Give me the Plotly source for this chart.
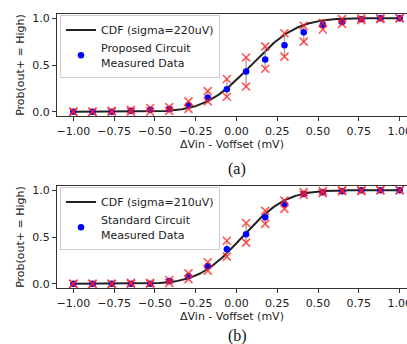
import math
import plotly.graph_objects as go

# ---------------- data ----------------
x_points = [-1.0, -0.882, -0.765, -0.647, -0.529, -0.412, -0.294, -0.176, -0.059,
            0.059, 0.176, 0.294, 0.412, 0.529, 0.647, 0.765, 0.882, 1.0]

# panel (a) - proposed circuit
a_mean = [0.0, 0.0, 0.0, 0.01, 0.02, 0.03, 0.07, 0.15, 0.24,
          0.43, 0.56, 0.71, 0.85, 0.93, 0.96, 0.99, 1.0, 1.0]
a_upper = [0.0, 0.0, 0.01, 0.02, 0.04, 0.05, 0.11, 0.22, 0.35,
           0.58, 0.70, 0.84, 0.92, 0.95, 0.99, 1.0, 1.0, 1.0]
a_lower = [0.0, 0.0, 0.0, 0.0, 0.0, 0.01, 0.03, 0.11, 0.16,
           0.27, 0.46, 0.59, 0.75, 0.88, 0.94, 0.98, 0.99, 1.0]

# panel (b) - standard circuit
b_mean = [0.0, 0.0, 0.0, 0.0, 0.0, 0.03, 0.08, 0.19, 0.37,
          0.53, 0.71, 0.85, 0.96, 0.98, 0.99, 1.0, 1.0, 1.0]
b_upper = [0.0, 0.0, 0.0, 0.01, 0.01, 0.04, 0.11, 0.23, 0.46,
           0.65, 0.78, 0.89, 0.98, 0.99, 1.0, 1.0, 1.0, 1.0]
b_lower = [0.0, 0.0, 0.0, 0.0, 0.0, 0.01, 0.05, 0.14, 0.29,
           0.44, 0.64, 0.80, 0.95, 0.97, 0.99, 0.99, 1.0, 1.0]

# fitted CDF parameters (mV)
cdf_sigma = [0.22, 0.21]
cdf_mu = [0.09, 0.035]
cdf_labels = ["CDF (sigma=220uV)", "CDF (sigma=210uV)"]
data_labels = ["Proposed Circuit<br>Measured Data", "Standard Circuit<br>Measured Data"]
captions = ["(a)", "(b)"]

x_ticks = [-1.0, -0.75, -0.5, -0.25, 0.0, 0.25, 0.5, 0.75, 1.0]
y_ticks = [0.0, 0.5, 1.0]

# ---------------- figure ----------------
W, H = 407, 344
FONT = "DejaVu Sans"
AX = "#333333"

curve_x = [-1.0 + 2.0 * i / 300 for i in range(301)]

fig = go.Figure()

panels = [
    (a_mean, a_upper, a_lower),
    (b_mean, b_upper, b_lower),
]

for i, (mean, up, lo) in enumerate(panels):
    xa = "x" if i == 0 else "x2"
    ya = "y" if i == 0 else "y2"
    lg = "legend" if i == 0 else "legend2"
    mu, sg = cdf_mu[i], cdf_sigma[i]
    curve_y = [0.5 * (1 + math.erf((v - mu) / (sg * math.sqrt(2)))) for v in curve_x]
    fig.add_trace(go.Scatter(
        x=curve_x, y=curve_y, mode="lines", name=cdf_labels[i],
        line=dict(color="#222222", width=2), xaxis=xa, yaxis=ya, legend=lg))
    fig.add_trace(go.Scatter(
        x=x_points, y=mean, mode="markers", name=data_labels[i],
        marker=dict(color="#0000ff", size=6.5),
        error_y=dict(type="data", symmetric=False,
                     array=[u - m for u, m in zip(up, mean)],
                     arrayminus=[m - l for m, l in zip(mean, lo)],
                     color="rgba(150,150,150,0.8)", thickness=1.5, width=0),
        xaxis=xa, yaxis=ya, legend=lg))
    for arr in (up, lo):
        fig.add_trace(go.Scatter(
            x=x_points, y=arr, mode="markers", showlegend=False,
            marker=dict(symbol="x-thin", size=8,
                        line=dict(color="rgba(255,30,30,0.75)", width=1.7)),
            xaxis=xa, yaxis=ya))

def xaxis_cfg():
    return dict(range=[-1.1, 1.045], domain=[57 / W, 1.0], automargin=False,
                tickvals=x_ticks, tickformat=".2f", ticklabeloverflow="allow",
                showline=True, linecolor=AX, linewidth=1, mirror=True,
                ticks="outside", ticklen=4, tickcolor=AX,
                showgrid=False, zeroline=False,
                tickfont=dict(family=FONT, size=11, color="#222"),
                title=dict(text="ΔVin - Voffset (mV)", standoff=3,
                           font=dict(family=FONT, size=11, color="#222")))

def yaxis_cfg(top_px, anchor):
    bottom_px = top_px + 102.8
    return dict(range=[-0.05, 1.05], automargin=False,
                domain=[1 - bottom_px / H, 1 - top_px / H], anchor=anchor,
                tickvals=y_ticks, tickformat=".1f",
                showline=True, linecolor=AX, linewidth=1, mirror=False,
                ticks="outside", ticklen=4, tickcolor=AX,
                showgrid=False, zeroline=False,
                tickfont=dict(family=FONT, size=11, color="#222"),
                title=dict(text="Prob(out+ = High)", standoff=5,
                           font=dict(family=FONT, size=11, color="#222")))

xa1 = xaxis_cfg(); xa1["anchor"] = "y"
xa2 = xaxis_cfg(); xa2["anchor"] = "y2"

legend_cfg = dict(xanchor="left", yanchor="top", bgcolor="rgba(255,255,255,0.85)",
                  bordercolor="#cccccc", borderwidth=1, itemwidth=30,
                  tracegroupgap=0,
                  font=dict(family=FONT, size=11, color="#222"))

fig.update_layout(
    width=W, height=H, margin=dict(l=0, r=0, t=0, b=0, autoexpand=False),
    paper_bgcolor="white", plot_bgcolor="white",
    xaxis=xa1, yaxis=yaxis_cfg(13.6, "x"),
    xaxis2=xa2, yaxis2=yaxis_cfg(185.6, "x2"),
    legend=dict(x=60 / W, y=1 - 14.5 / H, **legend_cfg),
    legend2=dict(x=60 / W, y=1 - 186.5 / H, **legend_cfg),
    showlegend=True,
    annotations=[
        dict(text=captions[0], x=237 / W, y=1 - 169 / H, xref="paper", yref="paper",
             showarrow=False, xanchor="center", yanchor="middle",
             font=dict(family="Liberation Serif", size=16, color="#111")),
        dict(text=captions[1], x=237 / W, y=1 - 336 / H, xref="paper", yref="paper",
             showarrow=False, xanchor="center", yanchor="middle",
             font=dict(family="Liberation Serif", size=16, color="#111")),
    ],
)

fig.write_html("out.html", config={"displayModeBar": False},
               post_script="document.body.style.margin='0';document.body.style.overflow='hidden';")
